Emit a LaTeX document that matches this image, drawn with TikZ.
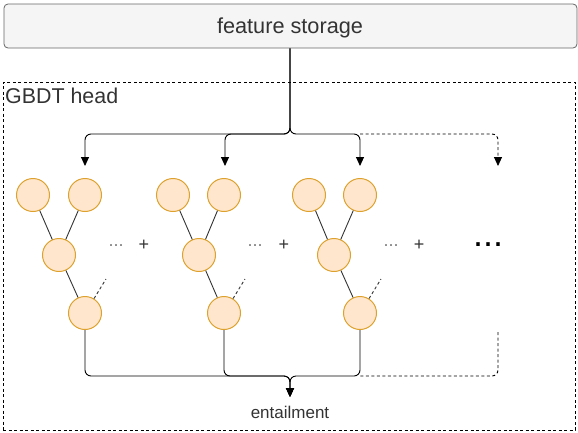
\documentclass[tikz,border=0pt]{standalone}
\usepackage{fontspec}
\setmainfont{Liberation Sans}
\usetikzlibrary{arrows.meta}
\definecolor{ofill}{HTML}{FFE6CC}
\definecolor{odraw}{HTML}{DDA12C}
\definecolor{bfill}{HTML}{F5F5F5}
\definecolor{bdraw}{HTML}{666666}
\definecolor{tgray}{HTML}{333333}
\tikzset{
  leaf/.style={circle, minimum size=33pt, inner sep=0pt, fill=ofill, draw=odraw, line width=1pt},
  tedge/.style={draw=tgray, line width=0.9pt},
  flow/.style={draw=black, line width=0.9pt, rounded corners=6pt},
  arr/.style={-{Triangle[length=9pt,width=8pt]}},
  dsh/.style={dash pattern=on 3pt off 2.5pt},
  smalldots/.style={text=gray, font=\fontsize{18}{20}\selectfont, anchor=base, inner sep=0pt},
  plussym/.style={text=tgray, font=\fontsize{18}{20}\selectfont, anchor=base, inner sep=0pt},
}
\begin{document}
\begin{tikzpicture}[x=1pt,y=-1pt]
\useasboundingbox (0,0) rectangle (578,432);
% feature storage box
\node[draw=bdraw, fill=bfill, rounded corners=4pt, line width=0.8pt, minimum width=573pt, minimum height=44pt, inner sep=0pt] (fs) at (290.5,26) {};
\node[text=tgray, font=\fontsize{21.7}{24}\selectfont, anchor=base, inner sep=0pt] (fst) at (290,33) {feature storage};
% GBDT head dashed region
\node[draw=black, dsh, line width=0.8pt, minimum width=572pt, minimum height=348pt, inner sep=0pt] (gbdt) at (289,256) {};
\node[text=tgray, font=\fontsize{21.4}{24}\selectfont, anchor=base west, inner sep=0pt] (gl) at (5,103) {GBDT head};
% trees
\foreach \i/\ax/\cx/\mx/\bx in {1/33/85/59/85, 2/173/224/199/224, 3/309/360/334/360}{
  \node[leaf] (a\i) at (\ax,195) {};
  \node[leaf] (c\i) at (\cx,195) {};
  \node[leaf] (m\i) at (\mx,255) {};
  \node[leaf] (b\i) at (\bx,313) {};
  \coordinate (x\i) at (\bx+21,279);
  \draw[tedge] (a\i) -- (m\i);
  \draw[tedge] (c\i) -- (m\i);
  \draw[tedge] (m\i) -- (b\i);
  \draw[tedge, dsh] (b\i.58) -- (x\i);
}
% dots and plus signs
\node[smalldots] (d1) at (116,246) {...};
\node[smalldots] (d2) at (255,246) {...};
\node[smalldots] (d3) at (391,246) {...};
\node[plussym] (p1) at (144,250) {+};
\node[plussym] (p2) at (284,250) {+};
\node[plussym] (p3) at (419,250) {+};
\node[text=black, font=\fontsize{36}{40}\selectfont, anchor=base, inner sep=0pt] (bigdots) at (488,246) {...};
% top distribution
\coordinate (split) at (290,134);
\coordinate (e1) at (85,166);
\coordinate (e2) at (225,166);
\coordinate (e3) at (360,166);
\coordinate (e4) at (498,166);
\coordinate (j3) at (360,134);
\draw[flow, arr] (fs.south -| split) -- (split) -| (e1);
\draw[flow, arr] (fs.south -| split) -- (split) -| (e2);
\draw[flow, arr] (fs.south -| split) -- (split) -| (e3);
\draw[flow, arr, dsh] (j3) -| (e4);
% bottom collection
\coordinate (merge) at (290,376);
\coordinate (ein) at (290,397);
\coordinate (k3) at (360,376);
\coordinate (f4) at (498,332);
\node[text=tgray, font=\fontsize{17}{20}\selectfont, anchor=base, inner sep=0pt] (ent) at (290,418) {entailment};
\draw[flow, arr] (b1.south) |- (merge) -- (ein);
\draw[flow, arr] (b2.south) |- (merge) -- (ein);
\draw[flow, arr] (b3.south) |- (merge) -- (ein);
\draw[flow, dsh] (f4) |- (k3);
\end{tikzpicture}
\end{document}
